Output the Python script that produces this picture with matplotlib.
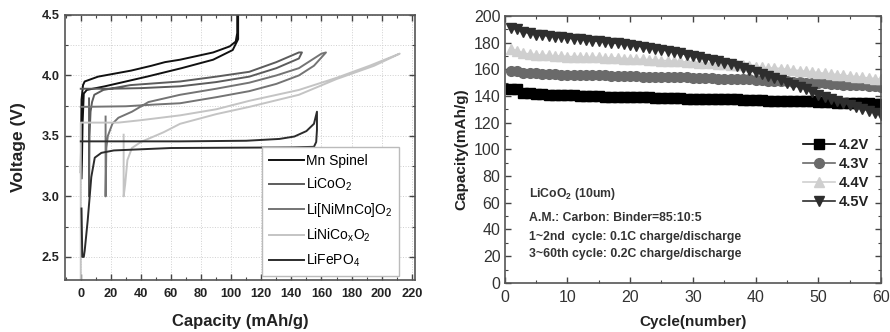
import matplotlib
matplotlib.use("Agg")
import matplotlib.pyplot as plt
from matplotlib.ticker import MultipleLocator

plt.rcParams['font.family'] = ['Liberation Sans', 'DejaVu Sans']
plt.rcParams['mathtext.fontset'] = 'custom'
plt.rcParams['mathtext.rm'] = 'Liberation Sans'
plt.rcParams['mathtext.it'] = 'Liberation Sans:italic'
plt.rcParams['mathtext.bf'] = 'Liberation Sans:bold'

# ---------------- Left chart data (capacity mAh/g, voltage V) ----------------
mn_x = [0, 0.5, 1.5, 2.6, 11.5, 33.5, 47, 56, 66, 88, 99, 103, 104, 104,
        104.6, 104.6, 101, 88, 67, 44, 16, 4, 2, 1.2, 0.8, 0.5]
mn_y = [3.2, 3.8, 3.92, 3.95, 3.99, 4.04, 4.08, 4.11, 4.13, 4.19, 4.24, 4.28, 4.35, 4.5,
        4.5, 4.3, 4.21, 4.13, 4.06, 3.99, 3.91, 3.88, 3.85, 3.6, 3.3, 3.15]

lco_x = [0, 20, 40, 66, 90, 112, 130, 145, 147,
         145, 130, 112, 90, 66, 33, 15, 9, 7.5, 6.5, 5.8, 5.5, 5.5]
lco_y = [3.89, 3.89, 3.895, 3.91, 3.945, 3.99, 4.06, 4.14, 4.19,
         4.19, 4.11, 4.03, 3.99, 3.95, 3.92, 3.88, 3.84, 3.78, 3.7, 3.5, 3.0, 3.81]

nmc_x = [0, 30, 50, 66, 90, 112, 130, 145, 155, 163,
         160, 145, 130, 112, 90, 66, 45, 34, 25, 21, 18, 17, 16.5, 16.5]
nmc_y = [3.74, 3.745, 3.76, 3.77, 3.82, 3.87, 3.93, 4.0, 4.08, 4.19,
         4.18, 4.06, 4.0, 3.94, 3.89, 3.84, 3.78, 3.70, 3.65, 3.60, 3.5, 3.4, 3.0, 3.66]

lnco_x = [0, 0, 25, 40, 66, 90, 112, 145, 170, 192, 212,
          195, 170, 145, 112, 90, 66, 55, 40, 34, 31, 29.5, 28.5, 28.5]
lnco_y = [2.3, 3.61, 3.61, 3.63, 3.67, 3.72, 3.79, 3.88, 3.98, 4.08, 4.18,
          4.08, 3.97, 3.84, 3.74, 3.68, 3.6, 3.53, 3.45, 3.4, 3.3, 3.1, 3.0, 3.51]

lfp_x = [0.5, 1, 2, 2.6, 4.6, 7, 9.3, 13.7, 22, 60, 140, 155, 156.5, 157, 157,
         155, 150, 142, 132, 110, 66, 0]
lfp_y = [2.9, 2.5, 2.5, 2.55, 2.8, 3.16, 3.32, 3.36, 3.38, 3.40, 3.405, 3.41, 3.45, 3.55, 3.7,
         3.6, 3.54, 3.495, 3.475, 3.46, 3.455, 3.455]

left_series = [
    ("Mn Spinel", mn_x, mn_y, "#111111"),
    ("LiCoO$_2$", lco_x, lco_y, "#5c5c5c"),
    ("Li[NiMnCo]O$_2$", nmc_x, nmc_y, "#747474"),
    ("LiNiCo$_\\mathrm{x}$O$_2$", lnco_x, lnco_y, "#c4c4c4"),
    ("LiFePO$_4$", lfp_x, lfp_y, "#2c2c2c"),
]

# ---------------- Right chart data (cycle vs capacity) ----------------
cycles = list(range(1, 61))
cap_42 = [145, 145, 142, 142, 141.5, 141.5, 141, 141, 140.5, 140.5,
          140.5, 140, 140, 140, 140, 139.5, 139.5, 139.5, 139.5, 139,
          139, 139, 139, 138.5, 138.5, 138.5, 138.5, 138.5, 138, 138,
          138, 138, 138, 137.5, 137.5, 137.5, 137.5, 137, 137, 137,
          137, 136.5, 136.5, 136.5, 136.5, 136, 136, 136, 136, 135.5,
          135.5, 135.5, 135, 135, 135, 134.5, 134.5, 134.5, 134, 134]
cap_43 = [158.5, 158.5, 157.5, 157, 157, 156.5, 156.5, 156.5, 156, 156,
          156, 156, 155.5, 155.5, 155.5, 155.5, 155, 155, 155, 155,
          155, 154.5, 154.5, 154.5, 154.5, 154, 154, 154, 154, 153.5,
          153.5, 153.5, 153.5, 153, 153, 153, 152.5, 152.5, 152.5, 152,
          152, 151.5, 151.5, 151, 151, 150.5, 150.5, 150, 150, 149.5,
          149.5, 149, 149, 148.5, 148.5, 148, 148, 147.5, 147.5, 147]
cap_44 = [175, 174, 172, 171.5, 171, 170.5, 170.5, 170, 170, 169.5,
          169.5, 169.5, 169, 169, 169, 168.5, 168.5, 168.5, 168, 168,
          167.5, 167.5, 167, 167, 166.5, 166.5, 166, 166, 165.5, 165.5,
          165, 165, 164.5, 164, 164, 163.5, 163, 163, 162.5, 162,
          161.5, 161, 161, 160.5, 160, 159.5, 159, 158.5, 158, 157.5,
          157, 156.5, 156, 155.5, 155, 154.5, 154, 153.5, 153, 152.5]
cap_45 = [191, 190, 188, 187, 186, 185.5, 185, 184.5, 184, 183.5,
          183, 182.5, 182, 181.5, 181, 180.5, 180, 179.5, 179, 178.5,
          177.5, 177, 176, 175.5, 174.5, 174, 173, 172, 171, 170,
          169, 168, 167, 166, 165, 164, 162.5, 161, 159.5, 158,
          156.5, 155, 153.5, 152, 150, 148, 146.5, 145, 143, 141,
          139.5, 138, 136.5, 135, 133.5, 132, 130.5, 129, 127.5, 126]

right_series = [
    ("4.2V", cap_42, "s", "#000000"),
    ("4.3V", cap_43, "o", "#6a6a6a"),
    ("4.4V", cap_44, "^", "#cfcfcf"),
    ("4.5V", cap_45, "v", "#2e2e2e"),
]

fig = plt.figure(figsize=(8.9, 3.32), dpi=100)

# ---------------- Left axes ----------------
ax1 = fig.add_axes([0.073, 0.157, 0.393, 0.798])
for label, xs, ys, c in left_series:
    ax1.plot(xs, ys, color=c, lw=1.4, label=label, solid_joinstyle='round')
ax1.set_xlim(-10.5, 222)
ax1.set_ylim(2.31, 4.5)
ax1.xaxis.set_major_locator(MultipleLocator(20))
ax1.xaxis.set_minor_locator(MultipleLocator(10))
ax1.yaxis.set_major_locator(MultipleLocator(0.5))
ax1.yaxis.set_minor_locator(MultipleLocator(0.25))
ax1.grid(True, which='major', axis='x', ls=':', color='#d0d0d0', lw=0.7)
ax1.grid(True, which='both', axis='y', ls=':', color='#d0d0d0', lw=0.7)
ax1.set_axisbelow(True)
ax1.tick_params(which='both', direction='in', top=True, right=True, color='#444444')
ax1.tick_params(which='major', length=4, width=1)
ax1.tick_params(which='minor', length=2, width=0.8)
ax1.tick_params(axis='both', labelsize=9.2, pad=4)
ax1.tick_params(axis='x', pad=6)
for t in ax1.get_xticklabels() + ax1.get_yticklabels():
    t.set_fontweight('bold')
    t.set_color('#222222')
for s in ax1.spines.values():
    s.set_color('#555555')
    s.set_linewidth(1.2)
ax1.set_xlabel("Capacity (mAh/g)", fontsize=12, fontweight='bold', labelpad=10, color='#222222')
ax1.set_ylabel("Voltage (V)", fontsize=12.5, fontweight='bold', labelpad=11, color='#222222')
leg1 = ax1.legend(loc='lower left', bbox_to_anchor=(0.563, 0.015), fontsize=10,
                  handlelength=2.5, handletextpad=0.15, labelspacing=0.55,
                  borderpad=0.5, fancybox=False, framealpha=1, edgecolor='#bbbbbb',
                  borderaxespad=0)
leg1.get_frame().set_linewidth(1.0)

# ---------------- Right axes ----------------
ax2 = fig.add_axes([0.567, 0.148, 0.423, 0.804])
for label, ys, m, c in right_series:
    ax2.plot(cycles, ys, color=c, marker=m, ms=7, lw=1.2, label=label,
             markeredgecolor=c)
ax2.set_xlim(0, 60)
ax2.set_ylim(0, 200)
ax2.xaxis.set_major_locator(MultipleLocator(10))
ax2.xaxis.set_minor_locator(MultipleLocator(5))
ax2.yaxis.set_major_locator(MultipleLocator(20))
ax2.yaxis.set_minor_locator(MultipleLocator(10))
ax2.tick_params(which='both', direction='in', top=True, right=True, color='#444444')
ax2.tick_params(which='major', length=4, width=1)
ax2.tick_params(which='minor', length=2, width=0.8)
ax2.tick_params(axis='both', labelsize=11.5, labelcolor='#333333', pad=3)
ax2.tick_params(axis='x', pad=5)
for s in ax2.spines.values():
    s.set_color('#555555')
    s.set_linewidth(1.2)
ax2.set_xlabel("Cycle(number)", fontsize=11, fontweight='bold', labelpad=7, color='#222222')
ax2.set_ylabel("Capacity(mAh/g)", fontsize=11, fontweight='bold', labelpad=4, color='#222222')
leg2 = ax2.legend(loc='upper right', bbox_to_anchor=(0.985, 0.565),
                  prop={'weight': 'bold', 'size': 10.5}, frameon=False,
                  handlelength=2.2, handletextpad=0.3, labelspacing=0.35,
                  borderaxespad=0)
for t in leg2.get_texts():
    t.set_color('#222222')

ann = [
    ("LiCoO$_\\mathbf{2}$ (10um)", 0.333),
    ("A.M.: Carbon: Binder=85:10:5", 0.243),
    ("1~2nd  cycle: 0.1C charge/discharge", 0.172),
    ("3~60th cycle: 0.2C charge/discharge", 0.109),
]
for txt, yy in ann:
    ax2.text(0.066, yy, txt, transform=ax2.transAxes, fontsize=8.8,
             fontweight='bold', color='#333333', va='center', ha='left')

fig.savefig("out.png", dpi=100)
